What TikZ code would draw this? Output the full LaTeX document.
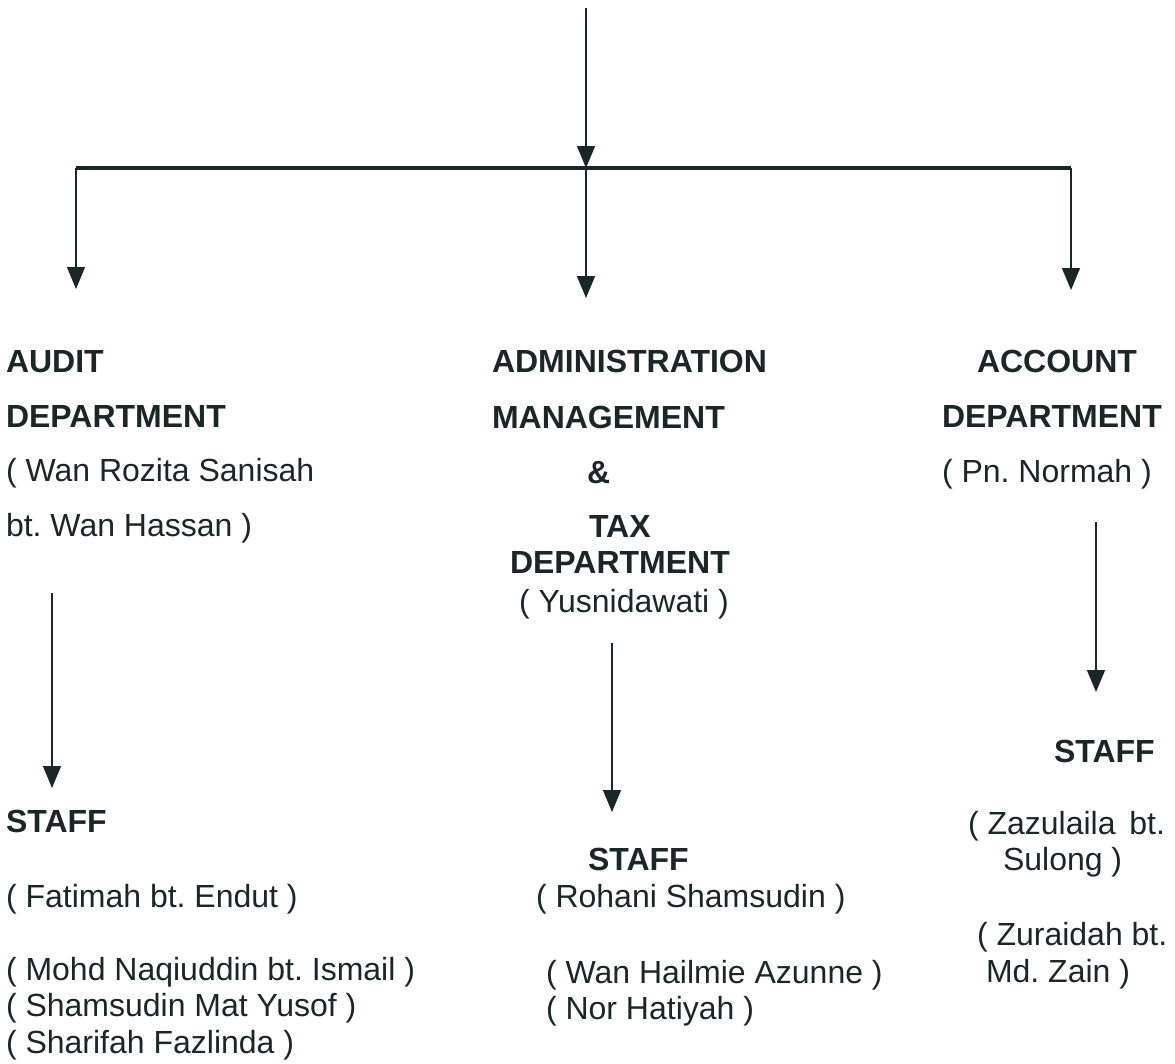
\documentclass[tikz,border=0pt]{standalone}
\usepackage{fontspec}
\setmainfont{Liberation Sans}
\usetikzlibrary{arrows.meta}
\definecolor{ink}{RGB}{28,38,38}
\frenchspacing
\begin{document}
\begin{tikzpicture}[x=1pt,y=-1pt,
  txt/.style={anchor=base west,inner sep=0pt,outer sep=0pt,text=ink,font=\fontsize{32}{38}\selectfont},
  head/.style={txt,font=\fontsize{32}{38}\selectfont\bfseries},
  conn/.style={draw=ink,line width=1.5pt},
  arr/.style={conn,-{Triangle[length=22pt,width=18pt]}},
  bus/.style={draw=ink,line width=3.2pt}]
\useasboundingbox (0,0) rectangle (1175,1063);
% bus
\coordinate (top) at (586,8);
\coordinate (busL) at (76,168);
\coordinate (busM) at (586,168);
\coordinate (busR) at (1071,168);
\draw[bus] (busL) -- (busR);
\draw[arr] (top) -- (busM);
\coordinate (tipL) at (76,289);
\coordinate (tipM) at (586,298);
\coordinate (tipR) at (1071,290);
\draw[arr] (busL) -- (tipL);
\draw[arr] (busM) -- (tipM);
\draw[arr] (busR) -- (tipR);
% audit column
\node[head] (au1) at (6,372) {AUDIT};
\node[head] (au2) at (6,427) {DEPARTMENT};
\node[txt] (au3) at (6,481) {( Wan Rozita Sanisah};
\node[txt] (au4) at (6,536) {bt. Wan Hassan )};
\coordinate (auS) at (52,593);
\coordinate (auT) at (52,788);
\draw[arr] (auS) -- (auT);
\node[head] (as1) at (6,832) {STAFF};
\node[txt] (as2) at (6,907) {( Fatimah bt. Endut )};
\node[txt] (as3) at (6,980) {( Mohd Naqiuddin bt. Ismail )};
\node[txt] (as4) at (6,1016) {( Shamsudin Mat Yusof )};
\node[txt] (as5) at (6,1053) {( Sharifah Fazlinda )};
% admin column
\node[head] (ad1) at (492,372) {ADMINISTRATION};
\node[head] (ad2) at (492,428) {MANAGEMENT};
\node[head] (ad3) at (587,483) {\&};
\node[head] (ad4) at (589,537) {TAX};
\node[head] (ad5) at (510,573) {DEPARTMENT};
\node[txt] (ad6) at (519,612) {( Yusnidawati )};
\coordinate (adS) at (612,643);
\coordinate (adT) at (612,812);
\draw[arr] (adS) -- (adT);
\node[head] (ds1) at (588,870) {STAFF};
\node[txt] (ds2) at (536,907) {( Rohani Shamsudin )};
\node[txt] (ds3) at (546,983) {( Wan Hailmie Azunne )};
\node[txt] (ds4) at (546,1019) {( Nor Hatiyah )};
% account column
\node[head] (ac1) at (977,372) {ACCOUNT};
\node[head] (ac2) at (942,427) {DEPARTMENT};
\node[txt] (ac3) at (942,482) {( Pn. Normah )};
\coordinate (acS) at (1096,522);
\coordinate (acT) at (1096,692);
\draw[arr] (acS) -- (acT);
\node[head] (cs1) at (1054,762) {STAFF};
\node[txt] (cs2) at (968,834) {( Zazulaila\hspace{5pt} bt.};
\node[txt] (cs3) at (1003,870) {Sulong )};
\node[txt] (cs4) at (977,945) {( Zuraidah bt.};
\node[txt] (cs5) at (986,982) {Md. Zain )};
\end{tikzpicture}
\end{document}
